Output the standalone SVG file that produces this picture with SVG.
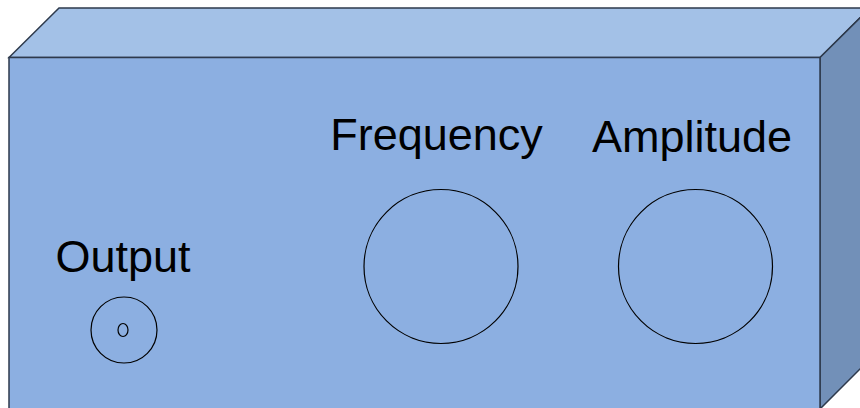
<svg xmlns="http://www.w3.org/2000/svg" width="860" height="408" viewBox="0 0 860 408">
<style>
.edge{stroke:#2e3a4c;stroke-width:1.5;stroke-linejoin:miter}
.lbl{font-family:"Liberation Sans",Arial,sans-serif;font-size:45px;fill:#000;text-anchor:middle}
.knob{fill:none;stroke:#000;stroke-width:1.2}
</style>
<rect width="860" height="408" fill="#fff"/>
<g id="box">
<polygon class="edge" points="9,57.5 59,8 870,8 820,57.5" fill="#a3c1e7"/>
<polygon class="edge" points="820,57.5 870,8 870,359 820,409" fill="#7290b8"/>
<rect class="edge" x="9" y="57.5" width="811" height="352" fill="#8cafe1"/>
</g>
<g id="output">
<text class="lbl" x="123" y="272">Output</text>
<circle class="knob" cx="124" cy="330" r="33"/>
<ellipse class="knob" cx="123" cy="330" rx="5" ry="6.5"/>
</g>
<g id="frequency">
<text class="lbl" x="436.5" y="150">Frequency</text>
<circle class="knob" cx="441" cy="266.5" r="77"/>
</g>
<g id="amplitude">
<text class="lbl" x="692" y="152">Amplitude</text>
<circle class="knob" cx="695.5" cy="266.5" r="77"/>
</g>
<g id="connectors"/>
</svg>
